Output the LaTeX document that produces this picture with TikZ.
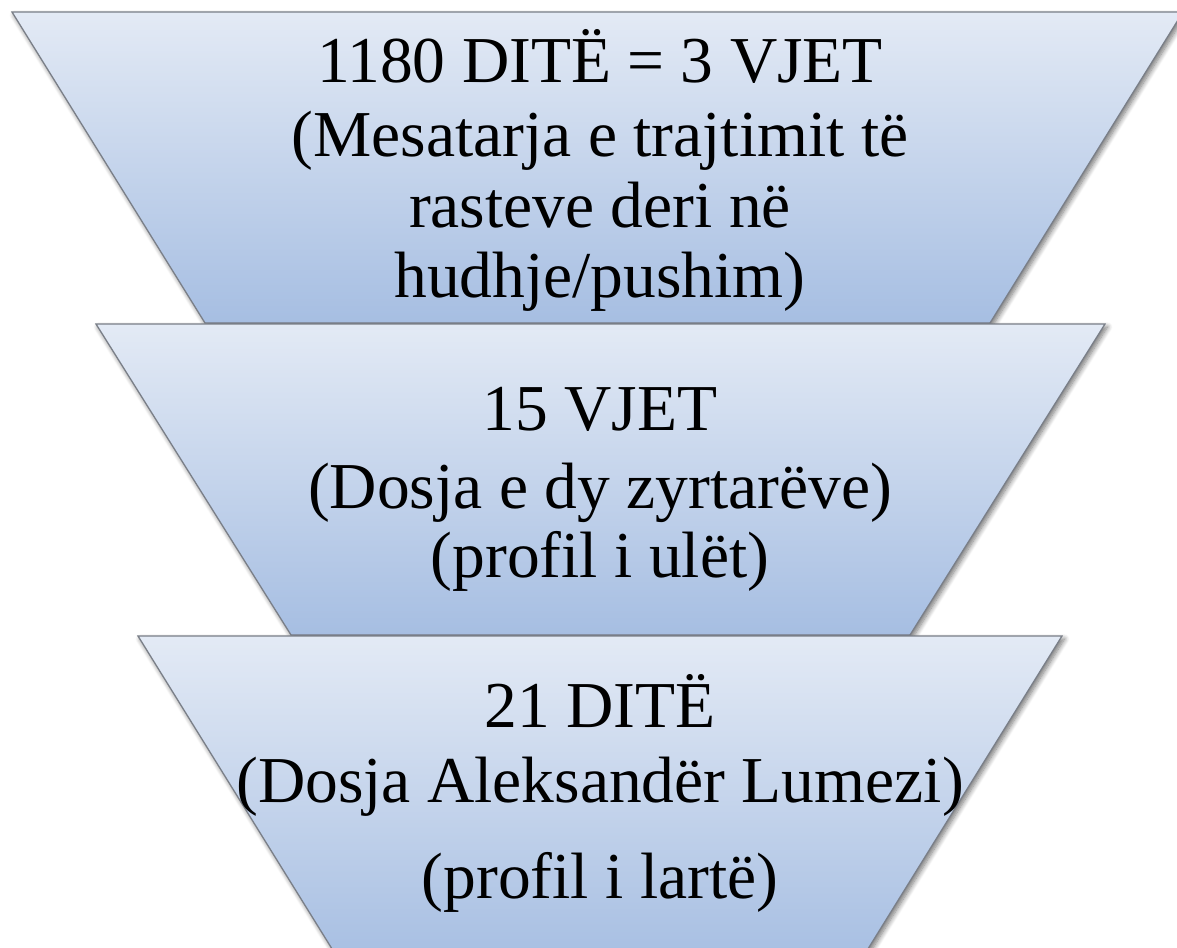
\documentclass[tikz,border=0pt]{standalone}
\usepackage{fontspec}
\setmainfont{Liberation Serif}
\usetikzlibrary{shadows.blur}
\definecolor{stagetop}{HTML}{E3EAF5}
\definecolor{stagebot}{HTML}{A6BEE2}
\definecolor{stageline}{HTML}{7A7F88}
\tikzset{
  stage/.style={draw=stageline, line width=1.3pt, line join=miter,
    top color=stagetop, bottom color=stagebot,
    blur shadow={shadow xshift=2.5pt, shadow yshift=-3pt, shadow blur radius=5pt, shadow blur steps=8, shadow opacity=55}},
  lbl/.style={font=\fontsize{65.5}{72}\selectfont, inner sep=0pt, anchor=base, text=black}
}
\begin{document}
\begin{tikzpicture}[x=1pt,y=-1pt]
\useasboundingbox (0,0) rectangle (1177,947);
% stage 1
\path[stage] (12,12) -- (1183,12) -- (990,323) -- (205,323) -- cycle;
% stage 2
\path[stage] (96,324) -- (1105,324) -- (910,635) -- (291,635) -- cycle;
% stage 3
\path[stage] (138,636) -- (1062,636) -- (858,965) -- (342,965) -- cycle;
% texts stage 1
\node[lbl] (a1) at (600,83) {1180 DITË = 3 VJET};
\node[lbl] (a2) at (600,157) {(Mesatarja e trajtimit të};
\node[lbl] (a3) at (600,227) {rasteve deri në};
\node[lbl] (a4) at (600,297) {hudhje/pushim)};
% texts stage 2
\node[lbl] (b1) at (600,430) {15 VJET};
\node[lbl] (b2) at (600,508) {(Dosja e dy zyrtarëve)};
\node[lbl] (b3) at (600,577) {(profil i ulët)};
% texts stage 3
\node[lbl] (c1) at (600,727) {21 DITË};
\node[lbl] (c2) at (600,802) {(Dosja Aleksandër Lumezi)};
\node[lbl] (c3) at (600,898) {(profil i lartë)};
\end{tikzpicture}
\end{document}
